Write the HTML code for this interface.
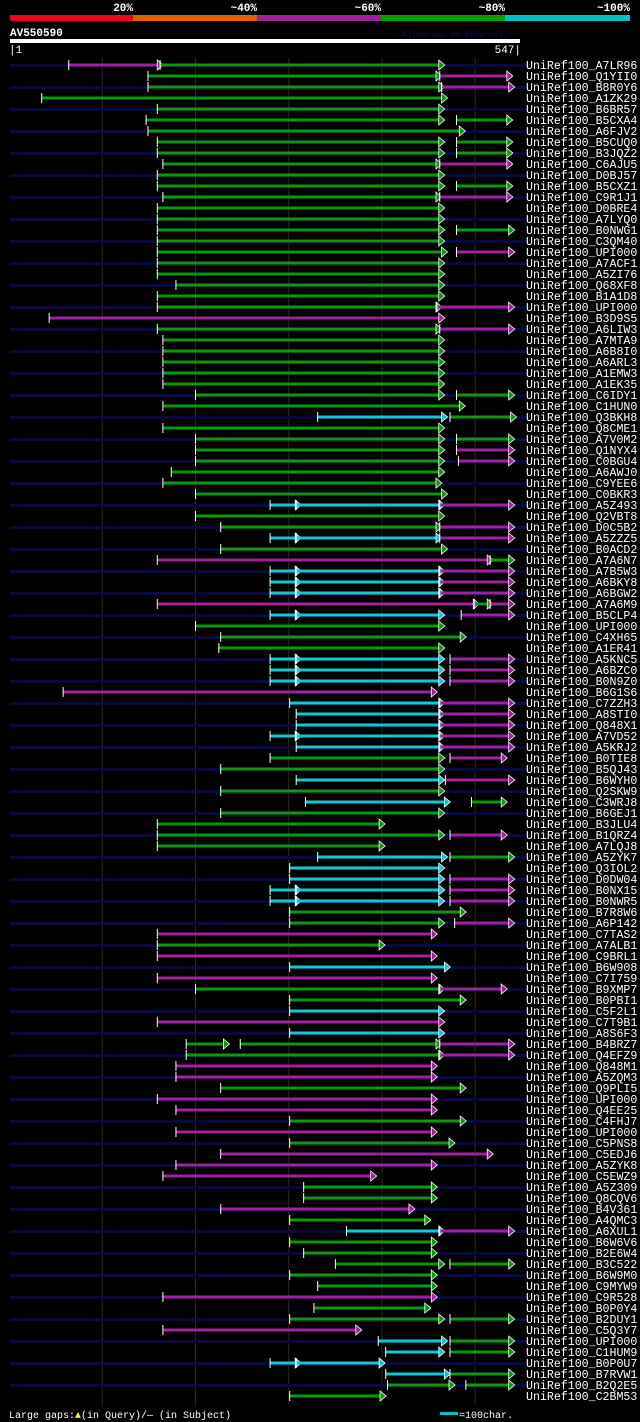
<!DOCTYPE html>
<html><head><meta charset="utf-8">
<style>
html,body{margin:0;padding:0;background:#000;}
body{width:640px;height:1422px;overflow:hidden;font-family:"Liberation Mono",monospace;}
svg{display:block}
</style></head>
<body>
<svg id="chart" width="640" height="1422" xmlns="http://www.w3.org/2000/svg">
  <g id="header">
    <rect x="10" y="15" width="123" height="6" fill="#f0001c"/>
    <rect x="133" y="15" width="124" height="6" fill="#e06000"/>
    <rect x="257" y="15" width="124" height="6" fill="#a020a0"/>
    <rect x="381" y="15" width="124" height="6" fill="#00a000"/>
    <rect x="505" y="15" width="125" height="6" fill="#00c0c8"/>
    <g font-family="Liberation Mono, monospace" font-size="11" font-weight="bold" fill="#fff" text-anchor="end">
      <text x="133" y="11">20%</text>
      <text x="257" y="11">~40%</text>
      <text x="381" y="11">~60%</text>
      <text x="505" y="11">~80%</text>
      <text x="630" y="11">~100%</text>
    </g>
    <text x="10" y="36" font-size="11" font-weight="bold" fill="#fff">AV550590</text>
    <text x="402" y="37" font-size="8" fill="#101050">AlignView.pm Beta rel.7</text>
    <rect x="10" y="39" width="510" height="4" fill="#fff"/>
    <text x="9" y="53" font-size="11" fill="#fff">|1</text>
    <text x="521" y="53" font-size="11" fill="#fff" text-anchor="end">547|</text>
  </g>
  <g id="grid"></g>
  <g id="rows"></g>
  <g id="footer">
    <text x="9" y="1418" font-size="10" fill="#fff">Large gaps:<tspan fill="#ff0">▲</tspan>(in Query)/— (in Subject)</text>
    <rect x="440" y="1412" width="18" height="3" fill="#00c0c8"/>
    <text x="459" y="1418" font-size="10" fill="#fff">=100char.</text>
  </g>
</svg>
<script>
const queryLength = 547;
const gridTicks = [100, 200, 300, 400, 500];
const hitNames = ["A7LR96","Q1YII0","B8R0Y6","A1ZK29","B6BR57","B5CXA4","A6FJV2","B5CUQ0","B3JQZ2","C6AJU5","D0BJ57","B5CXZ1","C9R1J1","D0BRE4","A7LYQ0","B0NWG1","C3QM40","UPI000..","A7ACF1","A5ZI76","Q68XF8","B1A1D8","UPI000..","B3D9S5","A6LIW3","A7MTA9","A6B8I0","A6ARL3","A1EMW3","A1EK35","C6IDY1","C1HUN0","Q3BKH8","Q8CME1","A7V0M2","Q1NYX4","C0BGU4","A6AWJ0","C9YEE6","C0BKR3","A5Z493","Q2VBT8","D0C5B2","A5ZZZ5","B0ACD2","A7A6N7","A7B5W3","A6BKY8","A6BGW2","A7A6M9","B5CLP4","UPI000..","C4XH65","A1ER41","A5KNC5","A6BZC0","B0N9Z0","B6G1S6","C7ZZH3","A8STI0","Q848X1","A7VD52","A5KRJ2","B0TIE8","B5QJ43","B6WYH0","Q2SKW9","C3WRJ8","B6GEJ1","B3JLU4","B1QRZ4","A7LQJ8","A5ZYK7","Q3IOL2","D0DW04","B0NX15","B0NWR5","B7R8W6","A6P142","C7TAS2","A7ALB1","C9BRL1","B6W908","C7I759","B9XMP7","B0PBI1","C5F2L1","C7T9B1","A8S6F3","B4BRZ7","Q4EFZ9","Q848M1","A5ZQM3","Q9PLI5","UPI000..","Q4EE25","C4FHJ7","UPI000..","C5PNS8","C5EDJ6","A5ZYK8","C5EWZ9","A5Z309","Q8CQV6","B4V361","A4QMC3","A6XUL1","B6W6V6","B2E6W4","B3C522","B6W9M0","C9MYW9","C9R528","B0P0Y4","B2DUY1","C5Q3Y7","UPI000..","C1HUM9","B0P0U7","B7RVW1","B2Q2E5","C2BM53"];
// segments per hit: [start, end, colorKey] in residue units; p=purple g=green c=cyan
const hitSegments = [
[[64,160,"p"],[162,462,"g"]],
[[149,459,"g"],[462,535,"p"]],
[[149,462,"g"],[464,537,"p"]],
[[35,465,"g"]],
[[159,462,"g"]],
[[147,462,"g"],[480,535,"g"]],
[[149,484,"g"]],
[[159,462,"g"],[480,535,"g"]],
[[159,462,"g"],[480,535,"g"]],
[[165,459,"g"],[462,535,"p"]],
[[159,462,"g"]],
[[159,462,"g"],[480,535,"g"]],
[[165,459,"g"],[462,535,"p"]],
[[159,462,"g"]],
[[159,462,"g"]],
[[159,462,"g"],[480,537,"g"]],
[[159,462,"g"]],
[[159,465,"g"],[480,537,"p"]],
[[159,462,"g"]],
[[159,462,"g"]],
[[179,462,"g"]],
[[159,462,"g"]],
[[159,459,"g"],[459,537,"p"]],
[[43,462,"p"]],
[[159,459,"g"],[462,537,"p"]],
[[165,462,"g"]],
[[165,462,"g"]],
[[165,462,"g"]],
[[165,462,"g"]],
[[165,462,"g"]],
[[200,462,"g"],[480,537,"g"]],
[[165,484,"g"]],
[[331,465,"c"],[473,539,"g"]],
[[165,462,"g"]],
[[200,462,"g"],[480,537,"g"]],
[[200,462,"g"],[480,537,"p"]],
[[200,462,"g"],[482,537,"p"]],
[[174,462,"g"]],
[[165,459,"g"]],
[[200,465,"g"]],
[[280,308,"c"],[308,462,"c"],[462,537,"p"]],
[[200,462,"g"]],
[[227,459,"g"],[462,537,"p"]],
[[280,308,"c"],[308,459,"c"],[462,537,"p"]],
[[227,465,"g"]],
[[159,514,"p"],[516,537,"g"]],
[[280,308,"c"],[308,462,"c"],[462,537,"p"]],
[[280,308,"c"],[308,462,"c"],[462,537,"p"]],
[[280,308,"c"],[308,462,"c"],[462,537,"p"]],
[[159,499,"p"],[499,514,"g"],[516,537,"p"]],
[[280,308,"c"],[308,462,"c"],[485,537,"p"]],
[[200,462,"g"]],
[[227,485,"g"]],
[[225,462,"g"]],
[[280,308,"c"],[308,462,"c"],[473,537,"p"]],
[[280,308,"c"],[308,462,"c"],[473,537,"p"]],
[[280,308,"c"],[308,462,"c"],[473,537,"p"]],
[[58,454,"p"]],
[[301,462,"c"],[462,537,"p"]],
[[308,462,"c"],[462,537,"p"]],
[[308,462,"c"],[462,537,"p"]],
[[280,308,"c"],[308,462,"c"],[462,537,"p"]],
[[308,462,"c"],[462,537,"p"]],
[[280,462,"g"],[473,529,"p"]],
[[227,462,"g"]],
[[308,462,"c"],[468,537,"p"]],
[[227,462,"g"]],
[[318,468,"c"],[496,529,"g"]],
[[227,462,"g"]],
[[159,398,"g"]],
[[159,462,"g"],[473,529,"p"]],
[[159,398,"g"]],
[[331,465,"c"],[473,537,"g"]],
[[301,462,"c"]],
[[301,462,"c"],[473,537,"p"]],
[[280,308,"c"],[308,462,"c"],[473,537,"p"]],
[[280,308,"c"],[308,462,"c"],[473,537,"p"]],
[[301,485,"g"]],
[[301,462,"g"],[478,537,"p"]],
[[159,454,"p"]],
[[159,398,"g"]],
[[159,454,"p"]],
[[301,468,"c"]],
[[159,454,"p"]],
[[200,462,"g"],[462,529,"p"]],
[[301,485,"g"]],
[[301,462,"c"]],
[[159,462,"p"]],
[[301,462,"c"]],
[[190,231,"g"],[248,459,"g"],[462,537,"p"]],
[[190,462,"g"],[462,537,"p"]],
[[179,454,"p"]],
[[179,454,"p"]],
[[227,485,"g"]],
[[159,454,"p"]],
[[179,454,"p"]],
[[301,485,"g"]],
[[179,454,"p"]],
[[301,473,"g"]],
[[227,514,"p"]],
[[179,454,"p"]],
[[165,389,"p"]],
[[316,454,"g"]],
[[316,454,"g"]],
[[227,430,"p"]],
[[301,447,"g"]],
[[362,462,"c"],[462,537,"p"]],
[[301,454,"g"]],
[[316,454,"g"]],
[[350,462,"g"],[473,537,"g"]],
[[301,454,"g"]],
[[331,454,"g"]],
[[165,454,"p"]],
[[327,447,"g"]],
[[301,462,"g"],[473,537,"g"]],
[[165,373,"p"]],
[[396,465,"c"],[473,537,"g"]],
[[404,462,"c"],[473,537,"g"]],
[[280,308,"c"],[308,398,"c"]],
[[404,468,"c"],[473,537,"g"]],
[[406,473,"g"],[490,537,"g"]],
[[301,399,"g"]]
];
const colors = {p:"#a020a0", g:"#0a9a0a", c:"#10c8d0"};
const NS = "http://www.w3.org/2000/svg";
const X0 = 10, X1 = 519;
function xScale(r){ return X0 + (r-1)*(X1-X0)/(queryLength-1); }
function yRow(i){ return 65 + i*11; }
function mk(tag, attrs, parent){ const e=document.createElementNS(NS,tag); for(const k in attrs) e.setAttribute(k,attrs[k]); parent.appendChild(e); return e; }

const grid = document.getElementById('grid');
gridTicks.forEach(t=>{
  const l = mk('line',{x1:xScale(t),x2:xScale(t),y1:58,y2:1405,stroke:'#2c2c08','stroke-width':1},grid);
  
  
});

const rows = document.getElementById('rows');
hitNames.forEach((name,i)=>{
  const y = yRow(i);
  const g = mk('g',{},rows);
  
  
  if(i%2===0){
    const bg = mk('rect',{x:10,y:y-1,width:518,height:3,fill:'#0a0a3a'},g);
    
    
  }
  hitSegments[i].forEach(s=>{
    const xa = xScale(s[0]), xb = xScale(s[1]);
    const seg = mk('rect',{x:xa,y:y-1.5,width:Math.max(1,xb-xa),height:3,fill:colors[s[2]]},g);
    
    
    const tick = mk('line',{x1:xa,x2:xa,y1:y-5,y2:y+5,stroke:'#fff','stroke-width':1},g);
    
    
    const tri = mk('polygon',{points:`${xb-1},${y-5} ${xb+5},${y} ${xb-1},${y+5}`,fill:colors[s[2]],stroke:'#fff','stroke-width':0.8},g);
    
    
  });
  const t = mk('text',{x:526,y:y+4,'font-size':'11.6','font-family':'Liberation Mono, monospace',fill:'#fff'},g);
  t.textContent = 'UniRef100_' + name;
  
  
});
</script>
</body></html>
